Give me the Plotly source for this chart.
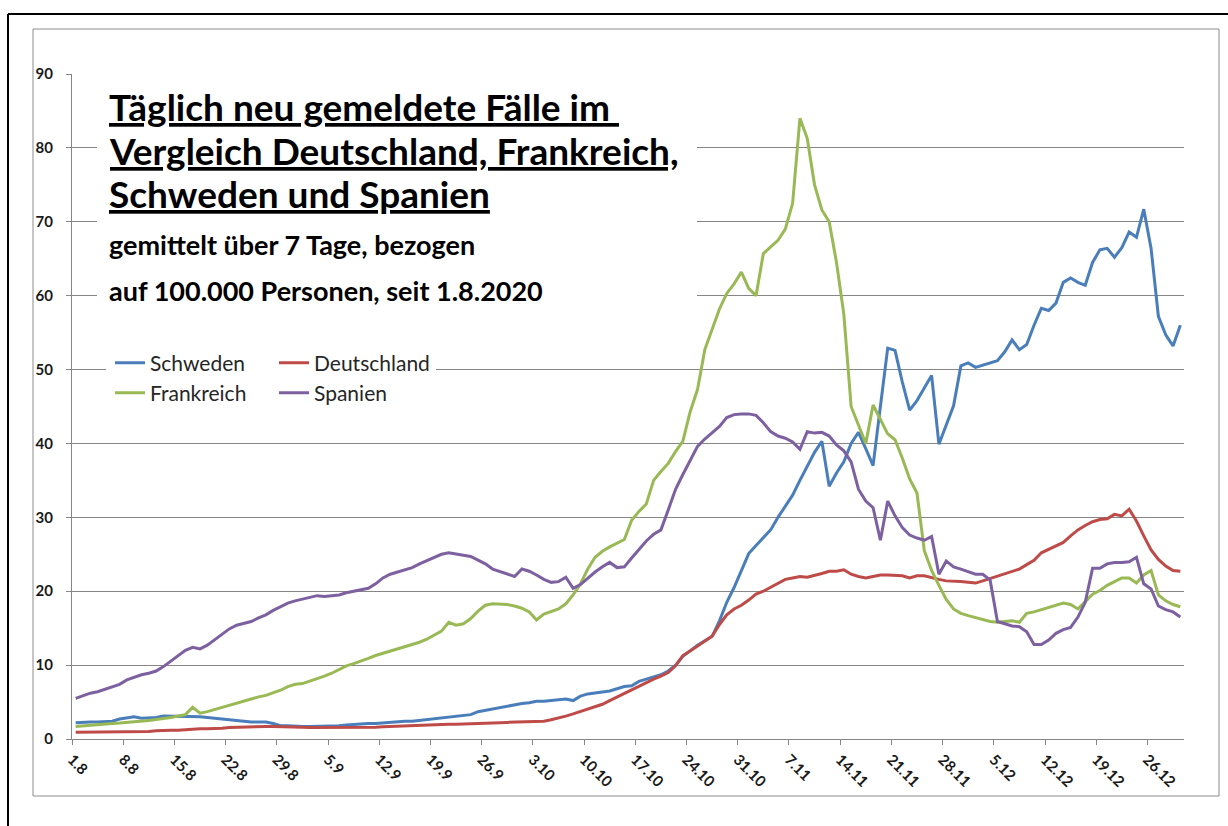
import plotly.graph_objects as go

tick_labels = ["1.8", "8.8", "15.8", "22.8", "29.8", "5.9", "12.9", "19.9", "26.9", "3.10",
               "10.10", "17.10", "24.10", "31.10", "7.11", "14.11", "21.11", "28.11", "5.12",
               "12.12", "19.12", "26.12"]

schweden = [
    2.2, 2.3, 2.3, 2.3, 2.3, 2.4, 2.7, 2.9, 3.0, 2.8,
    2.8, 2.9, 3.1, 3.1, 3.1, 3.1, 3.1, 3.0, 2.9, 2.8,
    2.7, 2.6, 2.4, 2.3, 2.3, 2.3, 2.3, 2.1, 1.8, 1.8,
    1.7, 1.7, 1.7, 1.7, 1.7, 1.7, 1.8, 1.9, 2.0, 2.0,
    2.1, 2.1, 2.2, 2.2, 2.3, 2.4, 2.4, 2.5, 2.7, 2.7,
    2.9, 3.0, 3.1, 3.1, 3.3, 3.7, 3.9, 4.1, 4.2, 4.4,
    4.6, 4.8, 4.9, 5.1, 5.1, 5.2, 5.3, 5.4, 5.2, 5.8,
    6.1, 6.2, 6.3, 6.5, 6.8, 7.1, 7.2, 7.8, 8.1, 8.4,
    8.7, 9.2, 10.0, 11.2, 12.0, 12.7, 13.3, 13.9, 16.0, 18.5,
    20.5, 22.8, 25.1, 26.2, 27.3, 28.3, 30.0, 31.5, 33.0, 35.0,
    37.0, 38.8, 40.3, 34.2, 36.0, 37.5, 40.0, 41.5, 39.3, 37.0,
    45.0, 52.9, 52.6, 48.3, 44.5, 45.8, 47.5, 49.2, 39.9, 42.5,
    45.1, 50.5, 50.9, 50.3, 50.6, 50.9, 51.2, 52.4, 54.0, 52.7,
    53.4, 56.0, 58.3, 58.0, 59.0, 61.8, 62.4, 61.8, 61.4, 64.5,
    66.2, 66.4, 65.2, 66.5, 68.6, 67.9, 71.7, 66.4, 57.2, 54.7,
    53.2, 56.0]

deutschland = [
    0.9, 0.9, 0.9, 0.9, 0.9, 1.0, 1.0, 1.0, 1.0, 1.0,
    1.0, 1.1, 1.2, 1.2, 1.2, 1.3, 1.35, 1.4, 1.4, 1.4,
    1.45, 1.55, 1.6, 1.6, 1.7, 1.7, 1.7, 1.7, 1.7, 1.65,
    1.6, 1.6, 1.55, 1.55, 1.5, 1.5, 1.5, 1.5, 1.55, 1.55,
    1.6, 1.6, 1.65, 1.7, 1.7, 1.75, 1.8, 1.8, 1.85, 1.9,
    2.0, 2.0, 2.0, 2.05, 2.1, 2.1, 2.15, 2.2, 2.2, 2.25,
    2.3, 2.3, 2.35, 2.4, 2.4, 2.6, 2.8, 3.1, 3.4, 3.7,
    4.0, 4.4, 4.7, 5.2, 5.7, 6.1, 6.6, 7.2, 7.7, 8.1,
    8.5, 9.0, 9.9, 11.3, 11.9, 12.6, 13.2, 13.9, 15.5, 16.8,
    17.6, 18.1, 18.8, 19.6, 20.0, 20.5, 21.0, 21.6, 21.8, 22.0,
    21.9, 22.1, 22.4, 22.7, 22.7, 22.9, 22.3, 22.0, 21.8, 22.0,
    22.2, 22.2, 22.2, 22.1, 21.8, 22.1, 22.1, 21.8, 21.6, 21.4,
    21.4, 21.3, 21.2, 21.1, 21.4, 21.7, 22.0, 22.3, 22.6, 23.0,
    23.6, 24.2, 25.2, 25.7, 26.2, 26.6, 27.5, 28.3, 28.9, 29.4,
    29.7, 29.8, 30.4, 30.2, 31.1, 29.5, 27.5, 25.6, 24.3, 23.4,
    22.8, 22.7]

frankreich = [
    1.7, 1.8, 1.85, 1.95, 2.05, 2.1, 2.15, 2.25, 2.3, 2.35,
    2.5, 2.65, 2.75, 2.9, 3.1, 3.3, 4.3, 3.5, 3.7, 4.0,
    4.3, 4.6, 4.9, 5.1, 5.4, 5.7, 5.9, 6.2, 6.6, 7.1,
    7.4, 7.5, 7.8, 8.2, 8.5, 8.9, 9.4, 9.9, 10.2, 10.5,
    10.9, 11.3, 11.6, 11.8, 12.1, 12.4, 12.7, 13.1, 13.5, 14.0,
    14.6, 15.8, 15.4, 15.6, 16.3, 17.3, 18.1, 18.3, 18.3, 18.2,
    18.0, 17.7, 17.2, 16.1, 16.9, 17.3, 17.6, 18.3, 19.5, 21.0,
    23.0, 24.6, 25.4, 26.0, 26.5, 27.0, 29.6, 30.8, 31.8, 35.0,
    36.2, 37.3, 38.9, 40.3, 44.3, 47.3, 52.7, 55.5, 58.2, 60.3,
    61.6, 63.2, 61.0, 60.0, 65.7, 66.6, 67.5, 69.0, 72.5, 84.0,
    81.3, 75.0, 71.6, 70.0, 64.5, 57.5, 45.0, 42.5, 40.0, 45.2,
    43.2, 41.3, 40.5, 38.0, 35.2, 33.3, 25.5, 22.8, 20.8, 18.9,
    17.6, 17.0, 16.7, 16.4, 16.1, 15.9, 15.8, 15.9, 16.0, 15.8,
    17.0, 17.2, 17.5, 17.9, 18.1, 18.4, 18.2, 17.6, 18.6, 19.6,
    20.1, 20.8, 21.3, 21.8, 21.8, 21.1, 22.2, 22.8, 19.5, 18.7,
    18.2, 17.9]

spanien = [
    5.5, 5.9, 6.2, 6.4, 6.7, 7.0, 7.4, 8.0, 8.4, 8.7,
    8.9, 9.2, 9.8, 10.5, 11.3, 12.0, 12.4, 12.2, 12.7, 13.4,
    14.1, 14.9, 15.4, 15.7, 15.9, 16.4, 16.8, 17.4, 17.9, 18.4,
    18.7, 18.9, 19.2, 19.4, 19.3, 19.4, 19.5, 19.8, 20.0, 20.2,
    20.4, 21.0, 21.8, 22.3, 22.6, 22.8, 23.2, 23.7, 24.1, 24.5,
    25.0, 25.2, 25.0, 24.9, 24.7, 24.2, 23.7, 23.0, 22.7, 22.4,
    22.0, 23.0, 22.7, 22.2, 21.6, 21.2, 21.3, 21.9, 20.4, 20.9,
    21.8, 22.6, 23.3, 23.9, 23.2, 23.3, 24.5, 25.6, 26.8, 27.7,
    28.3, 31.0, 33.8, 35.8, 37.8, 39.6, 40.6, 41.5, 42.3, 43.5,
    43.9, 44.0, 44.0, 43.8, 42.8, 41.6, 41.0, 40.7, 40.2, 39.2,
    41.6, 41.4, 41.5, 41.0, 39.8, 39.0, 37.5, 33.8, 32.2, 31.3,
    26.9, 32.2, 30.2, 28.6, 27.6, 27.2, 26.9, 27.4, 22.3, 24.1,
    23.3, 23.0, 22.7, 22.3, 22.3, 21.5, 15.9, 15.6, 15.3, 15.2,
    14.5, 12.8, 12.8, 13.4, 14.3, 14.8, 15.1, 16.5, 18.5, 23.1,
    23.1, 23.7, 23.9, 23.9, 24.0, 24.6, 21.0, 20.3, 18.0, 17.5,
    17.2, 16.5]

series_names = ["Schweden", "Deutschland", "Frankreich", "Spanien"]
series_values = [schweden, deutschland, frankreich, spanien]
series_colors = ["#4A7EBB", "#BE4B48", "#98B954", "#7D60A0"]
series_legend = ["legend", "legend", "legend2", "legend2"]

days = list(range(len(schweden)))
tick_positions = [i * 7 - 0.5 for i in range(len(tick_labels))]

FONT = "Lato"
GRID = "#868686"

fig = go.Figure()
for name, vals, col, lg in zip(series_names, series_values, series_colors, series_legend):
    fig.add_trace(go.Scatter(x=days, y=vals, mode="lines", name=name,
                             line=dict(color=col, width=3), legend=lg))

W, H = 1228, 826
ML, MR, MT, MB = 72, 44, 74, 87
PW, PH = W - ML - MR, H - MT - MB


def px(x):
    return (x - ML) / PW


def py(y):
    return (H - MB - y) / PH


shapes = [
    # chart area frame
    dict(type="rect", xref="paper", yref="paper", x0=px(33), x1=px(1219), y0=py(796), y1=py(29),
         line=dict(color="#8C8C8C", width=1), fillcolor="rgba(0,0,0,0)", layer="below"),
    # outer black frame (left and top)
    dict(type="line", xref="paper", yref="paper", x0=px(8), x1=px(8), y0=py(14), y1=py(840),
         line=dict(color="black", width=2)),
    dict(type="line", xref="paper", yref="paper", x0=px(8), x1=px(1240), y0=py(14), y1=py(14),
         line=dict(color="black", width=2)),
    # white text box behind title
    dict(type="rect", xref="paper", yref="paper", x0=px(97), x1=px(697), y0=py(312), y1=py(68),
         line=dict(width=0), fillcolor="white", layer="above"),
    # white box behind legend
    dict(type="rect", xref="paper", yref="paper", x0=px(106), x1=px(436), y0=py(412), y1=py(346),
         line=dict(width=0), fillcolor="white", layer="above"),
]

title_lines = [
    ("<u>Täglich neu gemeldete Fälle im </u>", 107, 37),
    ("<u>Vergleich Deutschland, Frankreich,</u>", 150, 37),
    ("<u>Schweden und Spanien</u>", 193, 37),
    ("gemittelt über 7 Tage, bezogen", 245, 27),
    ("auf 100.000 Personen, seit 1.8.2020", 290, 27),
]
annotations = []
for txt, yy, fs in title_lines:
    annotations.append(dict(text="<b>" + txt + "</b>", xref="paper", yref="paper",
                            x=px(107), y=py(yy), xanchor="left", yanchor="middle",
                            showarrow=False, font=dict(family=FONT, size=fs, color="#000000")))

legend_common = dict(orientation="h", font=dict(family=FONT, size=21, color="#262626"),
                     bgcolor="rgba(0,0,0,0)", entrywidth=119, entrywidthmode="pixels",
                     xanchor="left", yanchor="middle", itemwidth=30, tracegroupgap=0)

fig.update_layout(
    width=W, height=H,
    margin=dict(l=ML, r=MR, t=MT, b=MB, pad=0),
    paper_bgcolor="white", plot_bgcolor="white",
    showlegend=True,
    legend=dict(x=px(110), y=py(363), **legend_common),
    legend2=dict(x=px(110), y=py(393), **legend_common),
    xaxis=dict(range=[-0.5, len(days) - 0.5], tickmode="array", tickvals=tick_positions,
               ticktext=tick_labels, tickangle=45, showgrid=False, zeroline=False,
               showline=True, linecolor=GRID, linewidth=1, ticks="outside", ticklen=5,
               tickcolor=GRID, tickfont=dict(family=FONT, size=15, color="#1a1a1a", weight="bold"),
               fixedrange=True),
    yaxis=dict(range=[0, 90], tickmode="linear", tick0=0, dtick=10, showgrid=True,
               gridcolor=GRID, gridwidth=1, zeroline=False, showline=True, linecolor=GRID,
               linewidth=1, ticks="outside", ticklen=5, tickcolor=GRID,
               ticklabelstandoff=10,
               tickfont=dict(family=FONT, size=15, color="#1a1a1a", weight="bold"),
               fixedrange=True),
    shapes=shapes,
    annotations=annotations,
)

fig.write_html("out.html", config={"displayModeBar": False},
               post_script="document.body.style.margin='0';document.body.style.overflow='hidden';")
